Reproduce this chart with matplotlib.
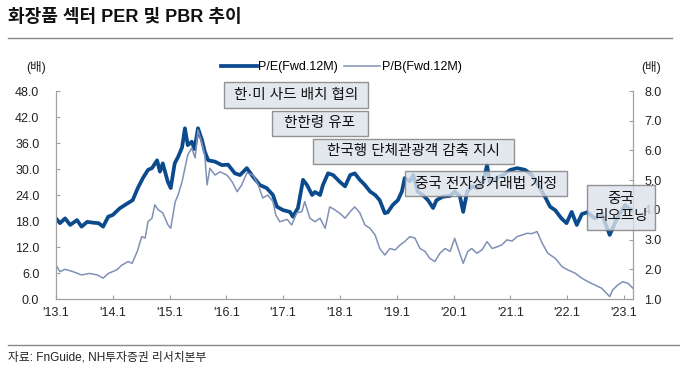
import matplotlib
matplotlib.use('Agg')
import matplotlib.pyplot as plt
from matplotlib.patches import Rectangle
from matplotlib.lines import Line2D

plt.rcParams['font.family'] = ['Liberation Sans', 'Noto Sans CJK KR']

# P/E (Fwd.12M), left axis
pe_t = [2013.00, 2013.07, 2013.16, 2013.25, 2013.37, 2013.45, 2013.55, 2013.66, 2013.75, 2013.83, 2013.92,
        2014.00, 2014.12, 2014.25, 2014.35, 2014.44, 2014.53, 2014.62, 2014.69, 2014.78, 2014.83, 2014.88, 2014.97,
        2015.02, 2015.09, 2015.15, 2015.22, 2015.27, 2015.32, 2015.39, 2015.44, 2015.50, 2015.57, 2015.62, 2015.68,
        2015.80, 2015.92,
        2016.03, 2016.15, 2016.24, 2016.36, 2016.47, 2016.59, 2016.71, 2016.82, 2016.89,
        2017.00, 2017.12, 2017.17, 2017.26, 2017.35, 2017.42, 2017.51, 2017.56, 2017.65, 2017.70, 2017.79, 2017.88,
        2018.00, 2018.09, 2018.18, 2018.26, 2018.35, 2018.44, 2018.53, 2018.62, 2018.70, 2018.79, 2018.84, 2018.93,
        2019.02, 2019.09, 2019.14, 2019.23, 2019.29, 2019.37, 2019.46, 2019.55, 2019.64, 2019.70, 2019.81, 2019.94,
        2020.02, 2020.11, 2020.17, 2020.24, 2020.33, 2020.43, 2020.52, 2020.59, 2020.64, 2020.76, 2020.87,
        2021.00, 2021.12, 2021.26, 2021.38, 2021.49, 2021.61, 2021.70, 2021.79, 2021.90, 2021.99,
        2022.08, 2022.17, 2022.26, 2022.35, 2022.49, 2022.61, 2022.75, 2022.88, 2023.02, 2023.14]
pe_v = [18.6, 17.5, 18.6, 17.1, 18.2, 16.7, 17.8, 17.6, 17.5, 16.7, 19.0,
        19.4, 20.9, 22.0, 22.8, 25.6, 27.9, 29.8, 30.2, 32.0, 29.4, 31.3, 27.0,
        25.6, 31.3, 32.8, 35.0, 39.4, 35.5, 36.3, 34.6, 39.4, 36.7, 34.0, 32.0, 31.7, 30.9,
        31.0, 29.0, 28.6, 30.2, 28.2, 26.3, 25.6, 24.0, 21.3,
        20.5, 20.1, 19.0, 21.0, 27.5, 26.3, 24.0, 24.7, 24.0, 26.3, 29.0, 28.6,
        27.0, 26.0, 28.6, 29.0, 27.5, 26.3, 24.8, 24.0, 22.8, 19.8, 20.0, 21.7,
        22.8, 24.8, 27.9, 27.2, 28.6, 24.8, 24.0, 22.8, 21.0, 22.8, 23.6, 23.8,
        24.8, 23.8, 20.1, 24.8, 26.0, 25.5, 27.0, 30.9, 27.0, 27.9, 28.6,
        29.8, 30.2, 29.8, 28.6, 26.3, 23.6, 21.3, 20.5, 18.6, 17.5,
        20.1, 17.1, 19.6, 20.0, 18.6, 19.6, 14.8, 18.6, 21.7, 20.5]

# P/B (Fwd.12M), right axis
pb_t = [2013.00, 2013.07, 2013.16, 2013.30, 2013.45, 2013.59, 2013.73, 2013.83, 2013.92,
        2014.07, 2014.16, 2014.27, 2014.34, 2014.43, 2014.51, 2014.57, 2014.62, 2014.69, 2014.74, 2014.80, 2014.88,
        2014.97,
        2015.02, 2015.10, 2015.15, 2015.22, 2015.27, 2015.32, 2015.39, 2015.45, 2015.50, 2015.57, 2015.62, 2015.66,
        2015.71, 2015.80, 2015.89,
        2016.01, 2016.10, 2016.19, 2016.27, 2016.36, 2016.47, 2016.56, 2016.64, 2016.73, 2016.82, 2016.87, 2016.94,
        2017.07, 2017.15, 2017.24, 2017.33, 2017.38, 2017.47, 2017.56, 2017.65, 2017.74, 2017.82, 2017.91,
        2018.00, 2018.09, 2018.18, 2018.26, 2018.35, 2018.44, 2018.53, 2018.62, 2018.70, 2018.79, 2018.88, 2018.97,
        2019.06, 2019.14, 2019.23, 2019.32, 2019.41, 2019.50, 2019.58, 2019.67, 2019.76, 2019.85, 2019.94,
        2020.02, 2020.08, 2020.17, 2020.25, 2020.32, 2020.41, 2020.50, 2020.59, 2020.68, 2020.76, 2020.85, 2020.94,
        2021.03, 2021.12, 2021.20, 2021.29, 2021.38, 2021.47, 2021.56, 2021.66, 2021.79, 2021.91,
        2022.01, 2022.14, 2022.26, 2022.37, 2022.49, 2022.61, 2022.75, 2022.80, 2022.89, 2022.98, 2023.07, 2023.16]
pb_v = [2.14, 1.92, 2.00, 1.92, 1.81, 1.86, 1.81, 1.70, 1.86,
        1.98, 2.14, 2.26, 2.20, 2.60, 3.10, 3.05, 3.60, 3.72, 4.17, 4.00, 3.90, 3.50,
        3.38, 4.28, 4.50, 4.95, 5.40, 5.85, 6.08, 5.75, 6.69, 6.25, 5.85, 4.84, 5.40, 5.17, 5.28,
        5.17, 4.95, 4.61, 4.84, 5.24, 5.17, 4.84, 4.40, 4.50, 4.28, 3.83, 3.60,
        3.68, 3.49, 3.90, 3.94, 4.28, 3.72, 3.60, 3.72, 3.38, 4.10, 4.00,
        3.88, 3.72, 3.94, 4.10, 3.90, 3.49, 3.38, 3.15, 2.70, 2.48, 2.70, 2.65,
        2.82, 2.93, 3.10, 3.05, 2.70, 2.60, 2.37, 2.26, 2.54, 2.70, 2.60,
        3.04, 2.70, 2.20, 2.60, 2.70, 2.54, 2.65, 2.93, 2.70, 2.75, 2.82, 2.99,
        2.95, 3.10, 3.15, 3.21, 3.20, 3.27, 2.88, 2.54, 2.37, 2.09,
        1.98, 1.87, 1.70, 1.58, 1.47, 1.36, 1.08, 1.30, 1.47, 1.58, 1.53, 1.36]

years = list(range(2013, 2024))
year_labels = ["'%d.1" % (y - 2000) for y in years]
pe_ticks = list(range(0, 49, 6))
pb_ticks = list(range(1, 9))

events = ["한·미 사드 배치 협의", "한한령 유포", "한국행 단체관광객 감축 지시",
          "중국 전자상거래법 개정", "중국\n리오프닝"]
# box extents in pixels: left, top, right, bottom
event_boxes = [(224, 82, 368, 108), (272, 111, 368, 136), (313, 139, 514, 164),
               (405, 171, 567, 196), (587, 185, 655, 230)]

W, H = 680, 375
fig = plt.figure(figsize=(6.8, 3.75), dpi=100)


def fx(px):
    return px / W


def fy(py):
    return 1 - py / H


ax = fig.add_axes([fx(56), fy(299), fx(633) - fx(56), fy(91) - fy(299)])
ax2 = ax.twinx()

pe_color = '#0c4a8e'
pb_color = '#8090b6'
grey = '#a0a0a0'

ax.plot(pe_t, pe_v, color=pe_color, lw=2.7, solid_joinstyle='round')
ax2.plot(pb_t, pb_v, color=pb_color, lw=1.1)

ax.set_xlim(2013, 2023.16)
ax.set_ylim(0, 48)
ax2.set_ylim(1, 8)
ax.set_xticks(years)
ax.set_xticklabels(year_labels)
ax.set_yticks(pe_ticks)
ax.set_yticklabels(["%.1f" % v for v in pe_ticks])
ax2.set_yticks(pb_ticks)
ax2.set_yticklabels(["%.1f" % v for v in pb_ticks])

for a in (ax, ax2):
    a.spines['top'].set_visible(False)
    for s in ('left', 'right', 'bottom'):
        a.spines[s].set_color(grey)
    a.tick_params(direction='in', length=3, color=grey, labelsize=9, labelcolor='#222222')
ax.tick_params(axis='y', pad=12)
ax2.tick_params(axis='y', pad=8)
ax.tick_params(axis='x', pad=6)

# legend
handles = [Line2D([], [], color=pe_color, lw=2.7), Line2D([], [], color=pb_color, lw=1.1)]
fig.legend(handles, ["P/E(Fwd.12M)", "P/B(Fwd.12M)"], ncol=2, frameon=False,
           loc='center', bbox_to_anchor=(fx(341), fy(67)), fontsize=9,
           handlelength=2.9, handletextpad=0.1, columnspacing=0.5)

# units
fig.text(fx(36), fy(67), "(배)", ha='center', va='center', fontsize=9, color='#222222')
fig.text(fx(651), fy(67), "(배)", ha='center', va='center', fontsize=9, color='#222222')

# event boxes
for label, (x0, y0, x1, y1) in zip(events, event_boxes):
    fig.patches.append(Rectangle((fx(x0), fy(y1)), fx(x1) - fx(x0), fy(y0) - fy(y1),
                                 transform=fig.transFigure, facecolor='#dde3ec', alpha=0.8,
                                 edgecolor='#7a7a7a', lw=1, zorder=5))
    fig.text(fx((x0 + x1) / 2), fy((y0 + y1) / 2), label, ha='center', va='center',
             fontsize=10.5, color='#111111', linespacing=1.25, zorder=6)

# title and source
fig.text(fx(8), fy(18), "화장품 섹터 PER 및 PBR 추이", ha='left', va='center',
         fontsize=13, fontweight='bold', color='#111111')
fig.add_artist(Line2D([fx(8), fx(672)], [fy(38), fy(38)], color='#888888', lw=1))
fig.add_artist(Line2D([fx(8), fx(680)], [fy(345), fy(345)], color='#888888', lw=1))
fig.text(fx(8), fy(358), "자료: FnGuide, NH투자증권 리서치본부", ha='left', va='center',
         fontsize=8.5, color='#222222')

fig.savefig('out.png', dpi=100)
